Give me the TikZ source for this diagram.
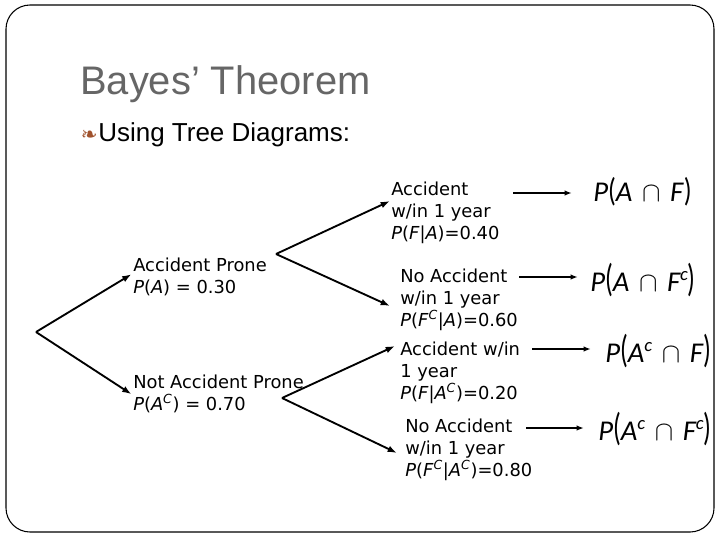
\documentclass[tikz,border=0pt]{standalone}
\usepackage{fontspec}
\usepackage{graphicx}
\usepackage{xcolor}
\setmainfont{DejaVu Sans}
\newfontfamily\arialfont{Liberation Sans}
\newfontfamily\eqfont{Carlito}
\newfontfamily\symfont{DejaVu Sans}
\usepackage{tikz}
\usetikzlibrary{arrows.meta,calc}
\definecolor{titlegray}{HTML}{666666}
\definecolor{bulletbrown}{HTML}{A0522D}
\newcommand{\treefont}{\fontsize{13.4}{16.5}\selectfont}
\newcommand{\eqsize}{\eqfont\fontsize{21.5}{23}\selectfont}
\newcommand{\cc}{\textsuperscript{\textit{C}}}
\newcommand{\Pit}{\textit{P}}
\newcommand{\supc}{\raisebox{0.38em}{\fontsize{14}{14}\selectfont c}}
\newcommand{\lpar}[1]{\scalebox{0.9}[#1]{\upshape(}}
\newcommand{\rpar}[1]{\scalebox{0.9}[#1]{\upshape)}}
% P( #2 \cap #3 ) with parentheses stretched by #1
\newcommand{\prob}[3]{\textit{P}\lpar{#1}\textit{#2}\,\,$\cap$\,\,\textit{#3}\rpar{#1}}

\begin{document}
\begin{tikzpicture}[x=0.75pt,y=-0.75pt,>={Latex[length=7pt,width=5pt]},
  tree/.style={anchor=north west,align=left,inner sep=0pt,font=\treefont},
  branch/.style={->,line width=1.4pt},
  result/.style={anchor=west,inner sep=0pt,font=\eqsize},
  link/.style={-{Latex[length=5.5pt,width=4pt]},line width=1.1pt}]
\useasboundingbox (0,0) rectangle (720,540);
\draw[line width=0.8pt,rounded corners=18pt,fill=white] (6,5) rectangle (714,532);

% heading
\node[anchor=base west,inner sep=0pt,text=titlegray,font=\arialfont\fontsize{29.9}{32}\selectfont] (title) at (80,94) {Bayes’ Theorem};
\node[anchor=base west,inner sep=0pt,font=\arialfont\fontsize{19.5}{22}\selectfont] (sub) at (98,141) {Using Tree Diagrams:};
\node[anchor=base east,inner sep=0pt,text=bulletbrown,font=\symfont\fontsize{15}{15}\selectfont] (bul) at (sub.base west) {❧};

% first level
\coordinate (root) at (36,332);
\node[tree] (pa) at (133,258) {Accident Prone\\\Pit(\textit{A}) = 0.30};
\node[tree] (pn) at (133,375) {Not Accident Prone\\\Pit(\textit{A}\cc) = 0.70};
\draw[branch] (root) -- ($(pa.west)+(-1.5,-3)$);
\draw[branch] (root) -- ($(pn.west)+(-1.5,0)$);

% second level
\coordinate (forkA) at (276,254);
\coordinate (forkN) at (282,398);
\node[tree] (fa) at (391,182) {Accident\\w/in 1 year\\\Pit(\textit{F}|\textit{A})=0.40};
\node[tree] (na) at (400,269) {No Accident\\w/in 1 year\\\Pit(\textit{F}\cc|\textit{A})=0.60};
\node[tree] (fc) at (400,342) {Accident w/in\\1 year\\\Pit(\textit{F}|\textit{A}\cc)=0.20};
\node[tree] (nc) at (405,419) {No Accident\\w/in 1 year\\\Pit(\textit{F}\cc|\textit{A}\cc)=0.80};
\draw[branch] (forkA) -- ($(fa.north west)+(-1,19)$);
\draw[branch] (forkA) -- ($(na.north west)+(-10,37)$);
\draw[branch] (forkN) -- ($(fc.north west)+(-5,4)$);
\draw[branch] (forkN) -- ($(nc.north west)+(-8,34)$);

% joint probabilities
\node[result] (r1) at (593,192) {\prob{1.15}{A}{F}};
\node[result] (r2) at (590,280) {\prob{1.35}{A}{F\supc}};
\node[result] (r3) at (605,351) {\prob{1.35}{A\supc}{F}};
\node[result] (r4) at (598,429) {\prob{1.35}{A\supc}{F\supc}};
\foreach \i/\xs/\xe/\y in {1/513/572/193,2/519/578/277,3/532/591/349,4/526/584/428}{
  \coordinate (s\i) at (\xs,\y);
  \coordinate (e\i) at (\xe,\y);
  \draw[link] (s\i) -- (e\i);
}
\end{tikzpicture}
\end{document}
